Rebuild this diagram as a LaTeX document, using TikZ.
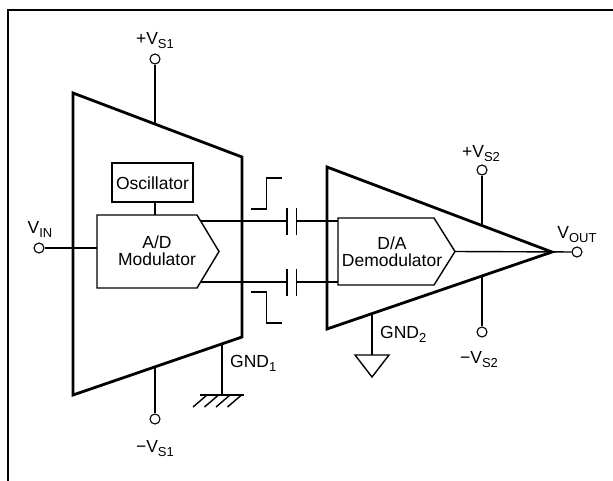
\documentclass[tikz,border=0pt]{standalone}
\usepackage{fontspec}
\setmainfont{Liberation Sans}
\newcommand\subtx[1]{\raisebox{-0.45ex}{\fontsize{13}{13}\selectfont #1}}
\tikzset{
  thickln/.style={line width=2.8pt, line join=miter},
  thinln/.style={line width=1.4pt},
  term/.style={circle, draw, line width=1.1pt, minimum size=10pt, inner sep=0pt, fill=white},
  lbl/.style={anchor=base, inner sep=0pt, font=\fontsize{17.5}{20}\selectfont},
  boxtxt/.style={inner sep=0pt, font=\fontsize{17.5}{20}\selectfont, align=center}
}
\begin{document}
\begin{tikzpicture}[x=1pt,y=-1pt]
\useasboundingbox (0,0) rectangle (613,480);
\fill[white] (0,0) rectangle (613,480);
% frame (top and left edges)
\draw[line width=2.6pt] (8,481) -- (8,10) -- (614,10);

% left trapezoid
\draw[thickln] (73,93) coordinate (LTL) -- (242,157) coordinate (LTR) -- (242,337) coordinate (LBR) -- (73,395) coordinate (LBL) -- cycle;
% right triangle
\draw[thickln] (327,167) coordinate (RT) -- (552,252) coordinate (RTip) -- (327,329) coordinate (RB) -- cycle;

% oscillator
\node[draw, thinln, minimum width=81pt, minimum height=39pt, inner sep=0pt] (osc) at (152.5,182.5) {};
\node[boxtxt] (osct) at (152.5,183) {Oscillator};

% A/D modulator pentagon
\draw[thinln] (97,215) coordinate (ADtl) -- (197,215) coordinate (ADtr) -- (219,251.5) coordinate (ADtip) -- (197,288) coordinate (ADbr) -- (97,288) coordinate (ADbl) -- cycle;
\node[boxtxt] (adt) at (157,251) {A/D\\[-3pt]Modulator};

% D/A demodulator pentagon
\draw[thinln] (338,218) coordinate (DAtl) -- (434,218) coordinate (DAtr) -- (455,251.5) coordinate (DAtip) -- (434,285) coordinate (DAbr) -- (338,285) coordinate (DAbl) -- cycle;
\node[boxtxt] (dat) at (392,252) {D/A\\[-3pt]Demodulator};

% oscillator to modulator
\coordinate (oscB) at (155,202);
\coordinate (modT) at (155,215);
\draw[thinln] (oscB) -- (modT);

% VIN
\node[term] (vin) at (39,248) {};
\coordinate (modL) at (97,248);
\draw[thinln] (vin) -- (modL);
\node[lbl] (vinl) at (40,233) {V\subtx{IN}};

% +VS1
\node[term] (vs1p) at (155,59) {};
\coordinate (ltop) at (155,124);
\draw[thinln] (vs1p) -- (ltop);
\node[lbl] (vs1pl) at (155,44) {+V\subtx{S1}};

% -VS1
\node[term] (vs1m) at (155,419) {};
\coordinate (lbot) at (155,367);
\draw[thinln] (lbot) -- (vs1m);
\node[lbl] (vs1ml) at (155,452) {\char"2212V\subtx{S1}};

% GND1
\coordinate (g1a) at (222,344);
\coordinate (g1b) at (222,395);
\draw[thinln] (g1a) -- (g1b);
\coordinate (h1) at (200,395);
\coordinate (h2) at (244,395);
\draw[thinln] (h1) -- (h2);
\foreach \hx in {207,218.5,230,241.5}{
  \draw[thinln] (\hx,395) -- ++(-14,12);
}
\node[lbl, anchor=base west] (g1l) at (230,367) {GND\subtx{1}};

% top signal path
\coordinate (o1a) at (201,221);
\coordinate (c1l) at (287,221);
\coordinate (c1r) at (296.5,221);
\coordinate (i1) at (338,221);
\draw[thinln] (o1a) -- (c1l);
\draw[thinln] (c1r) -- (i1);
\draw[thinln] (287,207.5) -- (287,234.5);
\draw[thinln] (296.5,207.5) -- (296.5,234.5);

% bottom signal path
\coordinate (o2a) at (201,282);
\coordinate (c2l) at (287,282);
\coordinate (c2r) at (296.5,282);
\coordinate (i2) at (338,282);
\draw[thinln] (o2a) -- (c2l);
\draw[thinln] (c2r) -- (i2);
\draw[thinln] (287,268.5) -- (287,295.5);
\draw[thinln] (296.5,268.5) -- (296.5,295.5);

% step waveforms
\draw[thinln] (251,209) -- (266.5,209) -- (266.5,178) -- (282,178);
\draw[thinln] (251,292) -- (266.5,292) -- (266.5,323) -- (282,323);

% output
\node[term] (vout) at (577,252) {};
\draw[thinln] (DAtip) -- (vout);
\node[lbl] (voutl) at (577,238) {V\subtx{OUT}};

% +VS2
\node[term] (vs2p) at (482,170) {};
\coordinate (rtop) at (482,226);
\draw[thinln] (vs2p) -- (rtop);
\node[lbl] (vs2pl) at (481,157) {+V\subtx{S2}};

% -VS2
\node[term] (vs2m) at (482,332) {};
\coordinate (rbot) at (482,277);
\draw[thinln] (rbot) -- (vs2m);
\node[lbl] (vs2ml) at (479,363) {\char"2212V\subtx{S2}};

% GND2
\coordinate (g2a) at (372,314);
\coordinate (g2b) at (372,355);
\draw[thinln] (g2a) -- (g2b);
\draw[thinln] (355,355) -- (389,355) -- (372,377) -- cycle;
\node[lbl, anchor=base west] (g2l) at (380,338) {GND\subtx{2}};
\end{tikzpicture}
\end{document}
